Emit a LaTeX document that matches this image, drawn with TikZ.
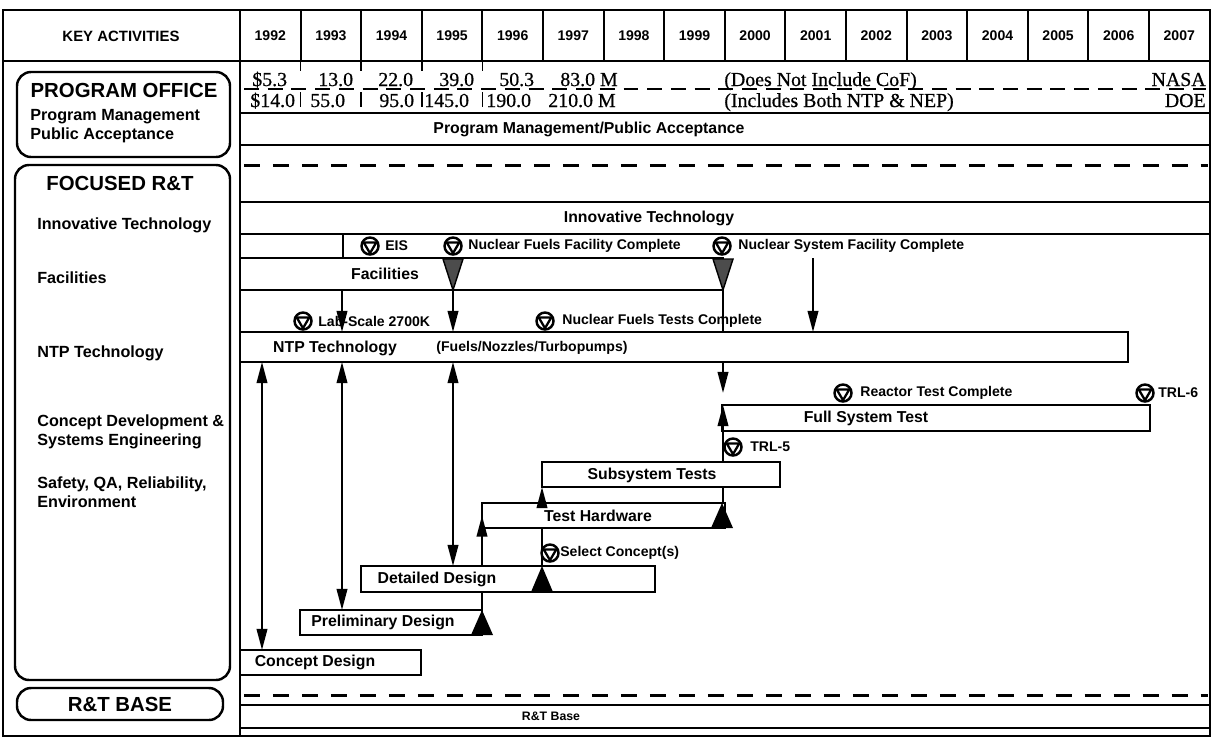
\documentclass[tikz,border=0pt]{standalone}
\usepackage{fontspec}
\setmainfont{Liberation Sans}
\newfontfamily\budgetfont[FakeBold=0.6]{Liberation Serif}
\usetikzlibrary{arrows.meta, fit}

\begin{document}
\begin{tikzpicture}[x=0.02cm, y=-0.02cm,
    frame/.style={line width=1.6pt},
    rule/.style={line width=1.3pt},
    bar/.style={draw, line width=1.3pt, fill=white, inner sep=0pt, outer sep=0pt},
    grp/.style={draw, line width=1.4pt, rounded corners=8pt, inner sep=0pt},
    ttl/.style={font=\fontsize{11.6}{13}\selectfont\bfseries, inner sep=0pt},
    sub/.style={font=\fontsize{9.2}{10.8}\selectfont\bfseries, inner sep=0pt, anchor=west, align=left},
    lab/.style={font=\fontsize{9}{10}\selectfont\bfseries, inner sep=0pt},
    ms/.style={font=\fontsize{8}{9}\selectfont\bfseries, inner sep=0pt, anchor=west},
    yr/.style={font=\fontsize{8}{9}\selectfont\bfseries, inner sep=0pt},
    bud/.style={font=\budgetfont\fontsize{11.3}{12}\selectfont, inner sep=0pt, anchor=base west},
    arr/.style={line width=1.2pt, -{Triangle[length=12pt, width=6pt]}},
    dbl/.style={line width=1.2pt, {Triangle[length=12pt, width=6pt]}-{Triangle[length=12pt, width=6pt]}},
    dashrule/.style={line width=1.7pt, dash pattern=on 9pt off 7.5pt},
    mstone/.pic={
      \draw[line width=1.4pt, fill=white] (0,0) circle (8.5);
      \draw[line width=1.3pt] (-6.3,-3.6) -- (6.3,-3.6) -- (0,7.2) -- cycle;
    }]
  \useasboundingbox (0,0) rectangle (1213,738);

  % Header: key activities and years
  \draw[frame] (3,61) -- (1210,61);
  \foreach \i in {1,...,15}
    \draw[line width=1.1pt] (240+60.6*\i,10) -- (240+60.6*\i,61);
  \node[yr, font=\fontsize{8.5}{9}\selectfont\bfseries] (key) at (121,36) {KEY ACTIVITIES};
  \foreach \y [count=\i from 0] in {1992,...,2007}
    \node[yr] (y\y) at (270.3+60.6*\i,36) {\y};

  % Left column groups
  \node[grp, fit={(17,72) (230,157)}] (po) {};
  \node[ttl] (poT) at (124,90) {PROGRAM OFFICE};
  \node[sub] (poA) at (30,117) {Program Management};
  \node[sub] (poB) at (30,135) {Public Acceptance};

  \node[grp, fit={(15,165) (230,680)}] (frt) {};
  \node[ttl] (frtT) at (120,183) {FOCUSED R\&T};
  \node[sub] (frtA) at (37,225) {Innovative Technology};
  \node[sub] (frtB) at (37,278) {Facilities};
  \node[sub] (frtC) at (37,353) {NTP Technology};
  \node[sub] (frtD) at (37,432) {Concept Development \&\\Systems Engineering};
  \node[sub] (frtE) at (37,492) {Safety, QA, Reliability,\\Environment};

  \node[grp, fit={(17,688) (223,720)}] (rtb) {};
  \node[ttl] (rtbT) at (120,704) {R\&T BASE};

  % Funding rows
  \draw[line width=1.1pt, dash pattern=on 8.5pt off 5pt] (244,89) -- (1206,89);
  \foreach \i in {1,...,4} {
    \draw[line width=0.9pt] (240+60.6*\i,61) -- (240+60.6*\i,71);
    \draw[line width=0.9pt] (240+60.6*\i,92) -- (240+60.6*\i,107);
  }
  \node[bud] (f92) at (252,86) {\$5.3};
  \node[bud] (f93) at (318,86) {13.0};
  \node[bud] (f94) at (378,86) {22.0};
  \node[bud] (f95) at (439,86) {39.0};
  \node[bud] (f96) at (499,86) {50.3};
  \node[bud] (f97) at (560,86) {83.0 M};
  \node[bud] (fcof) at (724,86) {(Does Not Include CoF)};
  \node[bud, anchor=base east] (nasa) at (1206,86) {NASA};
  \node[bud] (d92) at (250,107) {\$14.0};
  \node[bud] (d93) at (310,107) {55.0};
  \node[bud] (d94) at (379,107) {95.0};
  \node[bud] (d95) at (424,107) {145.0};
  \node[bud] (d96) at (486,107) {190.0};
  \node[bud] (d97) at (548,107) {210.0 M};
  \node[bud] (dnep) at (724,107) {(Includes Both NTP \& NEP)};
  \node[bud, anchor=base east] (doe) at (1206,107) {DOE};

  % Full width rows
  \draw[rule] (240,113) -- (1210,113);
  \node[lab] (pmpa) at (589,129) {Program Management/Public Acceptance};
  \draw[rule] (240,145) -- (1210,145);
  \draw[dashrule] (244,165) -- (1208,165);
  \draw[rule] (240,202) -- (1210,202);
  \node[lab] (inno) at (649,218) {Innovative Technology};
  \draw[rule] (240,234) -- (1210,234);
  \draw[rule] (343,234) -- (343,258);

  % Bars
  \node[bar, fit={(240,258) (723,290)}] (fac) {};
  \node[lab] (facT) at (385,274) {Facilities};
  \node[bar, fit={(240,332) (1128,362)}] (ntp) {};
  \node[lab] (ntpT) at (335,348) {NTP Technology};
  \node[ms, anchor=center] (ntpF) at (532,348) {(Fuels/Nozzles/Turbopumps)};
  \node[bar, fit={(722,405) (1150,431)}] (fst) {};
  \node[lab] (fstT) at (866,418) {Full System Test};
  \node[bar, fit={(542,462) (780,487)}] (sst) {};
  \node[lab] (sstT) at (652,475) {Subsystem Tests};
  \node[bar, fit={(482,503) (725,528)}] (thw) {};
  \node[lab] (thwT) at (598,516) {Test Hardware};
  \node[bar, fit={(361,566) (655,592)}] (dds) {};
  \node[lab] (ddsT) at (437,579) {Detailed Design};
  \node[bar, fit={(300,610) (482,635)}] (pds) {};
  \node[lab] (pdsT) at (383,622) {Preliminary Design};
  \node[bar, fit={(240,650) (421,675)}] (cds) {};
  \node[lab] (cdsT) at (315,662) {Concept Design};
  \draw[dashrule] (244,695) -- (1208,695);
  \node[bar, fit={(240,705) (1210,728)}] (rtbase) {};
  \node[lab, font=\fontsize{7}{8}\selectfont\bfseries] (rtbaseT) at (551,716) {R\&T Base};

  % Connector columns
  \coordinate (xa) at (262,0);
  \coordinate (xb) at (342,0);
  \coordinate (xc) at (453,0);
  \coordinate (xd) at (482,0);
  \coordinate (xe) at (542,0);
  \coordinate (xf) at (723,0);
  \coordinate (xg) at (813,0);

  % Facilities to NTP
  \draw[arr] (xb |- fac.south) -- (xb |- ntp.north);
  \draw[arr] (xc |- fac.south) -- (xc |- ntp.north);
  \draw[rule] (xf |- fac.south) -- (xf |- ntp.north);
  \draw[arr] (xg |- fac.north) -- (xg |- ntp.north);

  % NTP to design steps
  \draw[dbl] (xa |- ntp.south) -- (xa |- cds.north);
  \draw[dbl] (xb |- ntp.south) -- (xb |- pds.north);
  \draw[dbl] (xc |- ntp.south) -- (xc |- dds.north);
  \draw[arr] (xf |- ntp.south) -- (723,393);

  % Step to step
  \draw[rule] (xd |- pds.north) -- (xd |- dds.south);
  \draw[arr] (xd |- dds.north) -- (xd |- thw.center);
  \draw[rule] (xe |- dds.north) -- (xe |- thw.south);
  \draw[arr] (xe |- thw.north) -- (xe |- sst.south);
  \draw[rule] (xf |- thw.north) -- (xf |- sst.south);
  \draw[arr] (xf |- sst.north) -- (xf |- fst.north);

  % Milestone triangles
  \filldraw[fill=black!70, line width=0.8pt] (443,259) -- (463,259) -- (453,290) -- cycle;
  \filldraw[fill=black!70, line width=0.8pt] (713,259) -- (733,259) -- (723,290) -- cycle;
  \fill (471,635) -- (493,635) -- (482,610) -- cycle;
  \fill (531,592) -- (553,592) -- (542,566) -- cycle;
  \fill (711,528) -- (733,528) -- (722,503) -- cycle;

  % Milestones
  \pic at (370,246) {mstone};
  \node[ms] (mEis) at (385,246) {EIS};
  \pic at (453,246) {mstone};
  \node[ms] (mNff) at (468,246) {Nuclear Fuels Facility Complete};
  \pic at (722,246) {mstone};
  \node[ms] (mNsf) at (738,246) {Nuclear System Facility Complete};
  \pic at (303,321) {mstone};
  \node[ms] (mLab) at (318,321) {Lab-Scale 2700K};
  \pic at (545,321) {mstone};
  \node[ms] (mNft) at (562,321) {Nuclear Fuels Tests Complete};
  \pic at (843,393) {mstone};
  \node[ms] (mRtc) at (860,393) {Reactor Test Complete};
  \pic at (1145,393) {mstone};
  \node[ms] (mT6) at (1158,393) {TRL-6};
  \pic at (733,447) {mstone};
  \node[ms] (mT5) at (750,447) {TRL-5};
  \pic at (550,553) {mstone};
  \node[ms] (mSel) at (560,553) {Select Concept(s)};

  % Frame on top
  \draw[frame] (3,10) rectangle (1210,736);
  \draw[frame] (240,10) -- (240,736);
\end{tikzpicture}
\end{document}
